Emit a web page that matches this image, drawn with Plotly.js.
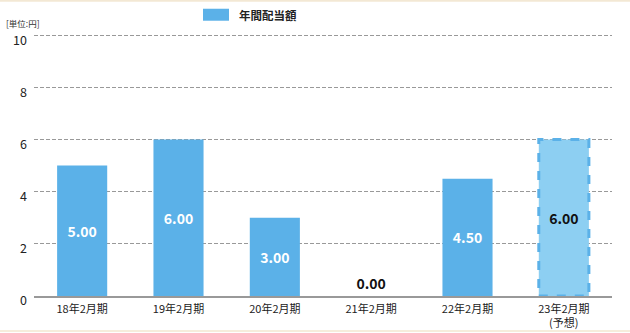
<!DOCTYPE html>
<html>
<head>
<meta charset="utf-8">
<script src="https://cdn.plot.ly/plotly-3.0.1.min.js"></script>
<style>
html,body{margin:0;padding:0;background:#fff;}
#chart{width:630px;height:333px;}
</style>
</head>
<body>
<div id="chart"></div>
<script>
const categories = ["18年2月期", "19年2月期", "20年2月期", "21年2月期", "22年2月期", "23年2月期<br>(予想)"];
const dividends = [5.00, 6.00, 3.00, 0.00, 4.50, 6.00];
const isForecast = [false, false, false, false, false, true];
const seriesName = "年間配当額";
const unitLabel = "[単位:円]";
const yTicks = [0, 2, 4, 6, 8, 10];

const FONT = "Noto Sans CJK JP, Noto Sans, sans-serif";
const BLUE = "#5bb1e8";
const LIGHT = "#8dcff2";

const YMAX = 10.2;
const PX_PER_UNIT = 26.1;
const BOTTOM_M = 37;
const PLOT_H = YMAX * PX_PER_UNIT;
const TOP_M = 333 - BOTTOM_M - PLOT_H;
const PLOT_L = 34, PLOT_W = 578;
const py = px => (333 - BOTTOM_M - px) / PLOT_H;
const pxX = px => (px - PLOT_L) / PLOT_W;

const barColors = isForecast.map(f => f ? LIGHT : BLUE);
const textColors = dividends.map((v, i) => (isForecast[i] || v === 0) ? "#111" : "#fff");
const textPos = dividends.map(v => v === 0 ? "outside" : "inside");
const barWidth = 0.52;

const trace = {
  type: "bar",
  x: categories,
  y: dividends,
  width: barWidth,
  marker: {color: barColors, line: {width: 0}},
  text: dividends.map(v => v.toFixed(2)),
  textposition: textPos,
  insidetextanchor: "middle",
  textfont: {family: FONT, size: 14, color: textColors, weight: "bold"},
  cliponaxis: false,
  showlegend: false,
  hoverinfo: "skip"
};

const shapes = [];
isForecast.forEach((f, i) => {
  if (f) {
    shapes.push({
      type: "rect", xref: "x", yref: "y",
      x0: i - barWidth / 2, x1: i + barWidth / 2, y0: 0, y1: dividends[i],
      line: {color: BLUE, width: 3, dash: "dash"},
      fillcolor: "rgba(0,0,0,0)"
    });
  }
});
// decorative beige rules at top and bottom
shapes.push({type: "line", xref: "paper", yref: "paper", x0: -0.1, x1: 1.1, y0: py(0.5), y1: py(0.5), line: {color: "#f3e8d4", width: 2}});
shapes.push({type: "line", xref: "paper", yref: "paper", x0: -0.1, x1: 1.1, y0: py(331), y1: py(331), line: {color: "#f6eddc", width: 2}});
// legend swatch
shapes.push({type: "rect", xref: "paper", yref: "paper", x0: pxX(203), x1: pxX(229), y0: py(20.5), y1: py(8.5), line: {width: 0}, fillcolor: BLUE});

const layout = {
  width: 630, height: 333,
  margin: {l: PLOT_L, r: 630 - PLOT_L - PLOT_W, t: TOP_M, b: BOTTOM_M},
  paper_bgcolor: "#fff", plot_bgcolor: "#fff",
  font: {family: FONT, color: "#222"},
  bargap: 1 - barWidth,
  xaxis: {
    type: "category",
    tickfont: {family: FONT, size: 11, color: "#222"},
    showline: true, linecolor: "#999", linewidth: 1.5,
    showgrid: false, ticks: "", fixedrange: true,
    ticklabelstandoff: 2
  },
  yaxis: {
    range: [0, YMAX], tickvals: yTicks,
    tickfont: {family: FONT, size: 12.5, color: "#222"},
    showgrid: true, gridcolor: "#999", griddash: "4px,2px", gridwidth: 1,
    zeroline: false, showline: false, ticks: "", ticklabelstandoff: 6,
    ticklabelshift: 5,
    fixedrange: true
  },
  shapes: shapes,
  annotations: [
    {xref: "paper", yref: "paper", x: pxX(237), y: py(14.5), xanchor: "left", yanchor: "middle",
     text: "<b>" + seriesName + "</b>", showarrow: false, font: {family: FONT, size: 11.5, color: "#222"}},
    {xref: "paper", yref: "paper", x: pxX(4), y: py(22.5), xanchor: "left", yanchor: "middle",
     text: unitLabel, showarrow: false, font: {family: FONT, size: 8.5, color: "#333"}}
  ]
};

Plotly.newPlot("chart", [trace], layout, {displayModeBar: false, staticPlot: true});
</script>
</body>
</html>
